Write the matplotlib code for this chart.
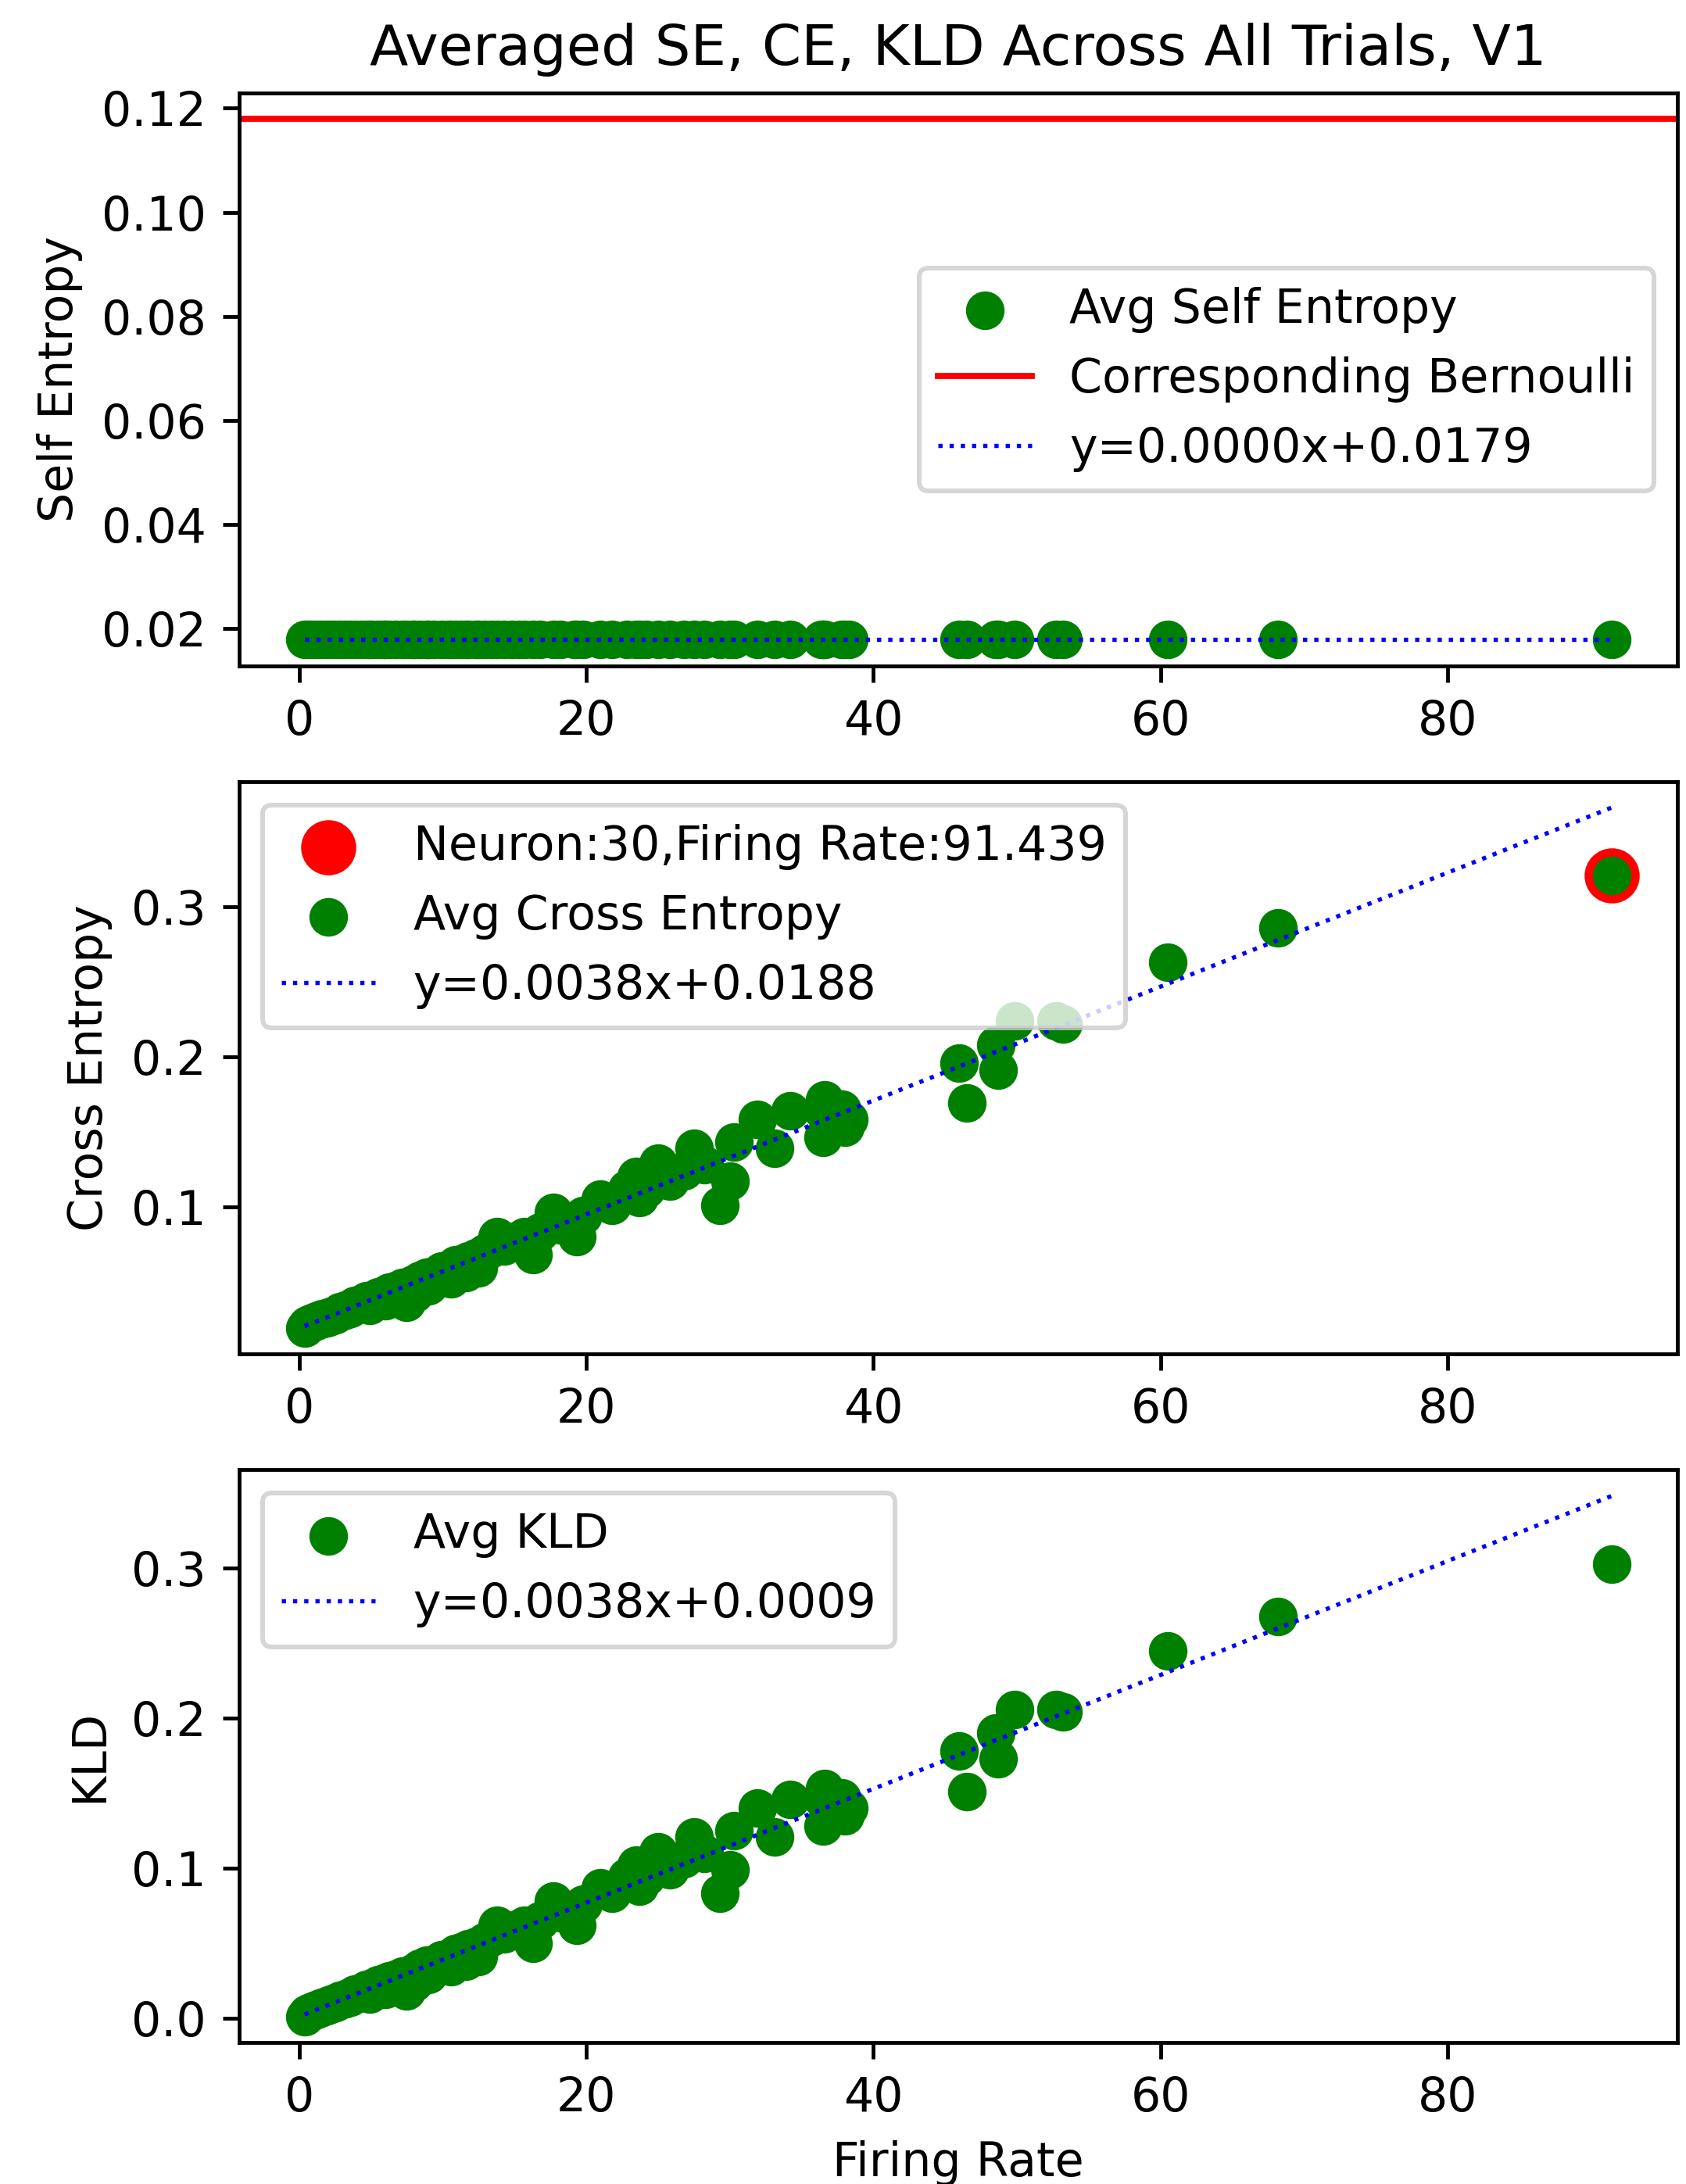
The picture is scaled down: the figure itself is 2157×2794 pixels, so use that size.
import matplotlib
matplotlib.use("Agg")
import matplotlib.pyplot as plt
import numpy as np

DPI = 433

# firing rate of each neuron (Hz)
firing_rate = [0.38, 0.55, 0.80, 1.05, 1.30, 1.60, 1.90, 2.20, 2.50, 2.85,
               3.20, 3.55, 3.90, 4.30, 4.70, 4.90, 5.10, 5.50, 5.90, 6.00,
               6.30, 6.70, 7.20, 7.45, 7.90, 8.00, 8.40, 8.90, 9.00, 9.40,
               9.90, 10.4, 10.6, 10.9, 11.3, 11.6, 11.8, 12.3, 12.5, 12.9,
               13.4, 13.8, 14.3, 14.8, 15.3, 15.7, 16.3, 16.8, 17.7, 18.2,
               19.2, 19.35, 19.8, 21.0, 21.8, 22.8, 23.5, 23.7, 24.2, 25.0,
               25.8, 26.8, 27.5, 28.2, 29.3, 30.0, 30.3, 31.9, 33.1, 34.2,
               36.4, 36.5, 36.6, 37.8, 38.0, 38.3, 45.97, 46.5, 48.5, 48.7,
               49.8, 52.7, 53.2, 60.5, 68.2, 91.439]

# averaged cross entropy
cross_entropy = [0.019, 0.021, 0.022, 0.023, 0.024, 0.025, 0.026, 0.027, 0.028, 0.030,
                 0.031, 0.032, 0.034, 0.035, 0.037, 0.034, 0.038, 0.040, 0.041, 0.037,
                 0.043, 0.044, 0.046, 0.036, 0.048, 0.042, 0.051, 0.053, 0.047, 0.054,
                 0.057, 0.058, 0.052, 0.061, 0.062, 0.056, 0.064, 0.066, 0.059, 0.069,
                 0.072, 0.080, 0.074, 0.076, 0.078, 0.080, 0.068, 0.083, 0.096, 0.088,
                 0.086, 0.080, 0.094, 0.105, 0.101, 0.112, 0.120, 0.106, 0.112, 0.129,
                 0.117, 0.124, 0.139, 0.128, 0.101, 0.117, 0.143, 0.158, 0.139, 0.164,
                 0.165, 0.146, 0.171, 0.165, 0.153, 0.158, 0.196, 0.169, 0.208, 0.191,
                 0.224, 0.224, 0.222, 0.263, 0.286, 0.321]

# averaged KL divergence
kld = [0.001, 0.003, 0.004, 0.005, 0.006, 0.007, 0.008, 0.009, 0.010, 0.012,
       0.013, 0.014, 0.016, 0.017, 0.019, 0.016, 0.020, 0.022, 0.023, 0.019,
       0.025, 0.026, 0.028, 0.018, 0.030, 0.024, 0.033, 0.035, 0.029, 0.036,
       0.039, 0.040, 0.034, 0.043, 0.044, 0.038, 0.046, 0.048, 0.041, 0.051,
       0.054, 0.062, 0.056, 0.058, 0.060, 0.062, 0.050, 0.065, 0.078, 0.070,
       0.068, 0.062, 0.076, 0.087, 0.083, 0.094, 0.102, 0.088, 0.094, 0.111,
       0.099, 0.106, 0.121, 0.110, 0.083, 0.099, 0.125, 0.140, 0.121, 0.146,
       0.147, 0.128, 0.153, 0.147, 0.135, 0.140, 0.178, 0.151, 0.190, 0.173,
       0.206, 0.206, 0.204, 0.245, 0.268, 0.303]

self_entropy_value = 0.0179   # every neuron sits on this value
bernoulli_entropy = 0.1179

# fitted lines as printed in the legends
fit_se = (0.0000, 0.0179)
fit_ce = (0.0038, 0.0188)
fit_kld = (0.0038, 0.0009)

highlight_neuron = 30
highlight_rate = 91.439
highlight_ce = 0.321


def fit_label(fit):
    return f"y={fit[0]:.4f}x+{fit[1]:.4f}"


x = np.array(firing_rate)
x_line = np.array([x.min(), x.max()])
self_entropy = np.full(len(x), self_entropy_value)

fig, (ax1, ax2, ax3) = plt.subplots(3, 1, figsize=(2157 / DPI, 2794 / DPI), dpi=DPI)
fig.subplots_adjust(left=0.1419, right=0.9949, top=0.9574, bottom=0.0648, hspace=0.202)

# self entropy
ax1.scatter(x, self_entropy, color='green', s=52, label='Avg Self Entropy')
ax1.axhline(bernoulli_entropy, color='red', lw=1.3, label='Corresponding Bernoulli')
ax1.plot(x_line, fit_se[0] * x_line + fit_se[1], linestyle=':', color='blue', lw=0.9,
         label=fit_label(fit_se))
ax1.set_ylabel('Self Entropy')
ax1.set_title('Averaged SE, CE, KLD Across All Trials, V1')
ax1.legend(loc='center right')

# cross entropy
ax2.scatter([highlight_rate], [highlight_ce], color='red', s=115,
            label=f'Neuron:{highlight_neuron},Firing Rate:{highlight_rate}')
ax2.scatter(x, cross_entropy, color='green', s=52, label='Avg Cross Entropy')
ax2.plot(x_line, fit_ce[0] * x_line + fit_ce[1], linestyle=':', color='blue', lw=0.9,
         label=fit_label(fit_ce))
ax2.set_ylabel('Cross Entropy')
ax2.legend(loc='upper left')

# KL divergence
ax3.scatter(x, kld, color='green', s=52, label='Avg KLD')
ax3.plot(x_line, fit_kld[0] * x_line + fit_kld[1], linestyle=':', color='blue', lw=0.9,
         label=fit_label(fit_kld))
ax3.set_ylabel('KLD')
ax3.set_xlabel('Firing Rate')
ax3.legend(loc='upper left')

fig.savefig('out.png', dpi=DPI)
